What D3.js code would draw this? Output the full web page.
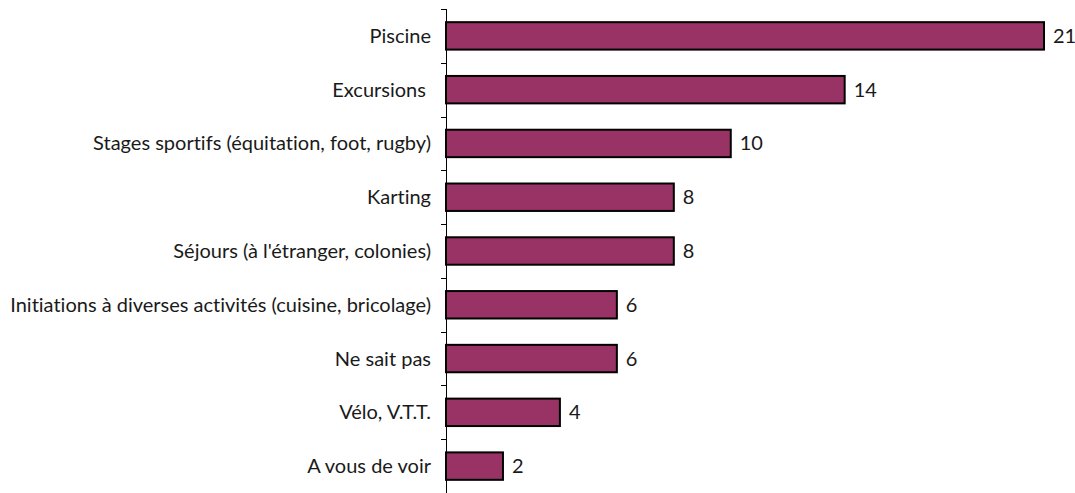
<!DOCTYPE html>
<html>
<head>
<meta charset="utf-8">
<script src="https://cdn.jsdelivr.net/npm/d3@7"></script>
<style>
    body { margin: 0; background: #fff; }
    text { font-family: Lato, "Open Sans", sans-serif; fill: #1a1a1a; white-space: pre; font-variant-ligatures: none; }
</style>
</head>
<body>
<div id="chart"></div>
<script>
const categories = [
    'Piscine',
    'Excursions ',
    'Stages sportifs (équitation, foot, rugby)',
    'Karting',
    "Séjours (à l'étranger, colonies)",
    'Initiations à diverses activités (cuisine, bricolage)',
    'Ne sait pas',
    'Vélo, V.T.T.',
    'A vous de voir'
]
const values = [21, 14, 10, 8, 8, 6, 6, 4, 2]

const width = 1075
const height = 493
const margin = { top: 9, right: 31, bottom: 0, left: 446 }
const fontSize = 20

const svg = d3.select('#chart')
    .append('svg')
    .attr('width', width)
    .attr('height', height)

const x = d3.scaleLinear()
    .domain([0, 21])
    .range([margin.left, 1044])

const y = d3.scaleBand()
    .domain(categories)
    .range([margin.top, height - margin.bottom])
    .paddingInner(0.49)
    .paddingOuter(0.245)

// Bars
svg.append('g')
    .selectAll('rect')
    .data(values)
    .join('rect')
    .attr('x', x(0))
    .attr('y', (d, i) => y(categories[i]))
    .attr('width', d => x(d) - x(0))
    .attr('height', y.bandwidth())
    .attr('fill', '#993366')
    .attr('stroke', '#000')
    .attr('stroke-width', 2)

// Value labels
svg.append('g')
    .selectAll('text')
    .data(values)
    .join('text')
    .attr('x', d => x(d) + 9)
    .attr('y', (d, i) => y(categories[i]) + y.bandwidth() / 2)
    .attr('dy', '0.35em')
    .attr('font-size', fontSize)
    .text(d => d)

// Category axis, ticks between bands
const axis = svg.append('g')
const step = y.step()
const bounds = d3.range(categories.length + 1).map(i => margin.top + i * step)

axis.append('line')
    .attr('x1', x(0) + 0.5).attr('x2', x(0) + 0.5)
    .attr('y1', margin.top).attr('y2', height)
    .attr('stroke', '#000')

axis.selectAll('.tick')
    .data(bounds)
    .join('line')
    .attr('class', 'tick')
    .attr('x1', x(0) - 5).attr('x2', x(0) + 0.5)
    .attr('y1', d => Math.round(d) + 0.5).attr('y2', d => Math.round(d) + 0.5)
    .attr('stroke', '#000')

axis.selectAll('.label')
    .data(categories)
    .join('text')
    .attr('class', 'label')
    .attr('x', 431)
    .attr('y', d => y(d) + y.bandwidth() / 2)
    .attr('dy', '0.35em')
    .attr('text-anchor', 'end')
    .attr('font-size', fontSize)
    .text(d => d)
</script>
</body>
</html>
